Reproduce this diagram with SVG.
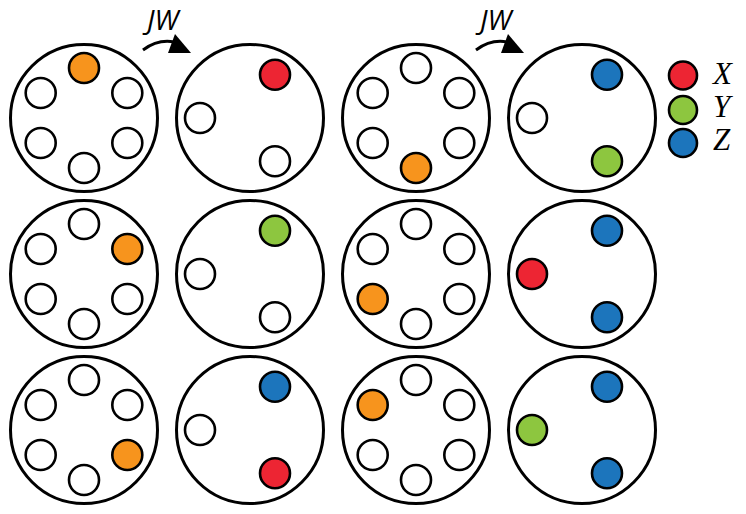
<svg xmlns="http://www.w3.org/2000/svg" width="746" height="514" viewBox="0 0 746 514">
<style>
.big{fill:#fff;stroke:#000;stroke-width:3}
.s{stroke:#000;stroke-width:2.6;fill:#fff}
.o{fill:#F7941D}.r{fill:#ED2533}.g{fill:#8DC63F}.b{fill:#1C75BC}
.lbl{font-family:"Liberation Serif",serif;font-style:italic;font-size:31px;fill:#000}
.jw{font-family:"Open Sans","Liberation Sans",sans-serif;font-style:italic;font-weight:400;font-size:28px;fill:#000}
.arc{fill:none;stroke:#000;stroke-width:3}
</style>
<g id="connectors">
<path class="arc" d="M143,50 Q158,39 174,42"/>
<path d="M175,34 L191,53 L168,53 z" fill="#000"/>
<path class="arc" d="M476,50 Q491,39 507,42"/>
<path d="M508,34 L524,53 L501,53 z" fill="#000"/>
</g>
<g id="labels-arrows">
<text class="jw" x="147" y="30">JW</text>
<text class="jw" x="480" y="30">JW</text>
</g>
<!-- Row 1 -->
<g id="r1c1" transform="translate(84,118)"><circle class="big" r="73.5"/>
<circle class="s o" cx="0" cy="-50" r="15"/><circle class="s" cx="-43.3" cy="-25" r="15"/><circle class="s" cx="43.3" cy="-25" r="15"/><circle class="s" cx="-43.3" cy="25" r="15"/><circle class="s" cx="43.3" cy="25" r="15"/><circle class="s" cx="0" cy="50" r="15"/></g>
<g id="r1c2" transform="translate(250,118)"><circle class="big" r="73.5"/>
<circle class="s r" cx="25" cy="-43.3" r="15"/><circle class="s" cx="-50" cy="0" r="15"/><circle class="s" cx="25" cy="43.3" r="15"/></g>
<g id="r1c3" transform="translate(416,118)"><circle class="big" r="73.5"/>
<circle class="s" cx="0" cy="-50" r="15"/><circle class="s" cx="-43.3" cy="-25" r="15"/><circle class="s" cx="43.3" cy="-25" r="15"/><circle class="s" cx="-43.3" cy="25" r="15"/><circle class="s" cx="43.3" cy="25" r="15"/><circle class="s o" cx="0" cy="50" r="15"/></g>
<g id="r1c4" transform="translate(582,118)"><circle class="big" r="73.5"/>
<circle class="s b" cx="25" cy="-43.3" r="15"/><circle class="s" cx="-50" cy="0" r="15"/><circle class="s g" cx="25" cy="43.3" r="15"/></g>
<!-- Row 2 -->
<g id="r2c1" transform="translate(84,274)"><circle class="big" r="73.5"/>
<circle class="s" cx="0" cy="-50" r="15"/><circle class="s" cx="-43.3" cy="-25" r="15"/><circle class="s o" cx="43.3" cy="-25" r="15"/><circle class="s" cx="-43.3" cy="25" r="15"/><circle class="s" cx="43.3" cy="25" r="15"/><circle class="s" cx="0" cy="50" r="15"/></g>
<g id="r2c2" transform="translate(250,274)"><circle class="big" r="73.5"/>
<circle class="s g" cx="25" cy="-43.3" r="15"/><circle class="s" cx="-50" cy="0" r="15"/><circle class="s" cx="25" cy="43.3" r="15"/></g>
<g id="r2c3" transform="translate(416,274)"><circle class="big" r="73.5"/>
<circle class="s" cx="0" cy="-50" r="15"/><circle class="s" cx="-43.3" cy="-25" r="15"/><circle class="s" cx="43.3" cy="-25" r="15"/><circle class="s o" cx="-43.3" cy="25" r="15"/><circle class="s" cx="43.3" cy="25" r="15"/><circle class="s" cx="0" cy="50" r="15"/></g>
<g id="r2c4" transform="translate(582,274)"><circle class="big" r="73.5"/>
<circle class="s b" cx="25" cy="-43.3" r="15"/><circle class="s r" cx="-50" cy="0" r="15"/><circle class="s b" cx="25" cy="43.3" r="15"/></g>
<!-- Row 3 -->
<g id="r3c1" transform="translate(84,430)"><circle class="big" r="73.5"/>
<circle class="s" cx="0" cy="-50" r="15"/><circle class="s" cx="-43.3" cy="-25" r="15"/><circle class="s" cx="43.3" cy="-25" r="15"/><circle class="s" cx="-43.3" cy="25" r="15"/><circle class="s o" cx="43.3" cy="25" r="15"/><circle class="s" cx="0" cy="50" r="15"/></g>
<g id="r3c2" transform="translate(250,430)"><circle class="big" r="73.5"/>
<circle class="s b" cx="25" cy="-43.3" r="15"/><circle class="s" cx="-50" cy="0" r="15"/><circle class="s r" cx="25" cy="43.3" r="15"/></g>
<g id="r3c3" transform="translate(416,430)"><circle class="big" r="73.5"/>
<circle class="s" cx="0" cy="-50" r="15"/><circle class="s o" cx="-43.3" cy="-25" r="15"/><circle class="s" cx="43.3" cy="-25" r="15"/><circle class="s" cx="-43.3" cy="25" r="15"/><circle class="s" cx="43.3" cy="25" r="15"/><circle class="s" cx="0" cy="50" r="15"/></g>
<g id="r3c4" transform="translate(582,430)"><circle class="big" r="73.5"/>
<circle class="s b" cx="25" cy="-43.3" r="15"/><circle class="s g" cx="-50" cy="0" r="15"/><circle class="s b" cx="25" cy="43.3" r="15"/></g>
<!-- Legend -->
<g id="legend">
<circle class="s r" cx="683" cy="75.5" r="14"/>
<circle class="s g" cx="683" cy="110" r="14"/>
<circle class="s b" cx="683" cy="143" r="14"/>
<text class="lbl" x="713" y="84">X</text>
<text class="lbl" x="713" y="117">Y</text>
<text class="lbl" x="713" y="150">Z</text>
</g>
</svg>
